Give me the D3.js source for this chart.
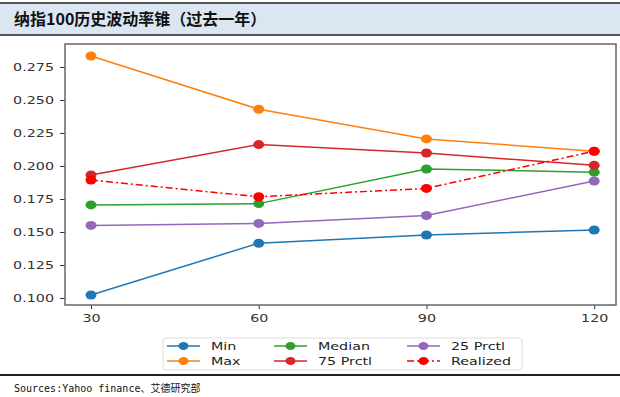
<!DOCTYPE html>
<html>
<head>
<meta charset="utf-8">
<script src="https://cdn.jsdelivr.net/npm/d3@7"></script>
<style>
  body { margin: 0; background: #fff; }
  svg { display: block; }
</style>
</head>
<body>
<div id="chart"></div>
<script>
// windows (days)
var windows = [30, 60, 90, 120];
var minVals = [0.1023, 0.1415, 0.1477, 0.1515];
var maxVals = [0.2833, 0.2430, 0.2205, 0.2112];
var medianVals = [0.1705, 0.1715, 0.1977, 0.1953];
var p25Vals = [0.1550, 0.1565, 0.1625, 0.1886];
var p75Vals = [0.1932, 0.2162, 0.2098, 0.2005];
var realizedVals = [0.1893, 0.1767, 0.1830, 0.2112];
var yTicks = [0.100, 0.125, 0.150, 0.175, 0.200, 0.225, 0.250, 0.275];

(function() {
  var W = 620, H = 397;
  var sx = 1.3; // source image is stretched horizontally
  var series = [
    {name: "Min", values: minVals, color: "#1f77b4", dash: null},
    {name: "Max", values: maxVals, color: "#ff7f0e", dash: null},
    {name: "Median", values: medianVals, color: "#2ca02c", dash: null},
    {name: "75 Prctl", values: p75Vals, color: "#d62728", dash: null},
    {name: "25 Prctl", values: p25Vals, color: "#9467bd", dash: null},
    {name: "Realized", values: realizedVals, color: "#ff0000", dash: "7,3,2,3"}
  ];

  var svg = d3.select("#chart").append("svg")
    .attr("width", W).attr("height", H);

  // header band
  svg.append("rect").attr("x", 0).attr("y", 3).attr("width", W).attr("height", 32)
    .attr("fill", "#dce6f2");
  svg.append("line").attr("x1", 0).attr("x2", W).attr("y1", 3).attr("y2", 3)
    .attr("stroke", "#222").attr("stroke-width", 1.5);
  svg.append("line").attr("x1", 0).attr("x2", W).attr("y1", 35).attr("y2", 35)
    .attr("stroke", "#222").attr("stroke-width", 1.5);
  svg.append("text").attr("x", 14).attr("y", 25)
    .attr("font-family", "Noto Sans CJK SC").attr("font-weight", "bold")
    .attr("font-size", "16px").attr("fill", "#111")
    .text("纳指100历史波动率锥（过去一年）");

  // plot area
  var pl = 65, pr = 616, pt = 44, pb = 305;
  var x = d3.scaleLinear().domain([25.35, 123.9]).range([pl, pr]);
  var y = d3.scaleLinear().domain([0.0947, 0.2924]).range([pb, pt]);

  var g = svg.append("g");

  var xAxis = g.append("g").attr("transform", "translate(0," + pb + ")")
    .call(d3.axisBottom(x).tickValues(windows).tickSize(4).tickPadding(5).tickFormat(d3.format("d")));
  var yAxis = g.append("g").attr("transform", "translate(" + pl + ",0)")
    .call(d3.axisLeft(y).tickValues(yTicks).tickSize(5).tickPadding(6).tickFormat(d3.format(".3f")));
  [xAxis, yAxis].forEach(function(a) {
    a.select(".domain").remove();
    a.selectAll("line").attr("stroke", "#333");
    a.selectAll("text").attr("font-family", "DejaVu Sans").attr("font-size", "11px").attr("fill", "#333");
  });
  xAxis.selectAll("text").attr("transform", "scale(" + sx + ",1)");
  yAxis.selectAll("text")
    .attr("x", -11 / sx)
    .attr("transform", "scale(" + sx + ",1)");

  g.append("rect").attr("x", pl).attr("y", pt)
    .attr("width", pr - pl).attr("height", pb - pt)
    .attr("fill", "none").attr("stroke", "#666").attr("stroke-width", 1.5);

  var line = d3.line()
    .x(function(d, i) { return x(windows[i]); })
    .y(function(d) { return y(d); });

  series.forEach(function(s) {
    g.append("path").attr("d", line(s.values))
      .attr("fill", "none").attr("stroke", s.color).attr("stroke-width", 1.5)
      .attr("stroke-dasharray", s.dash);
    g.selectAll(null).data(s.values).enter().append("ellipse")
      .attr("cx", function(d, i) { return x(windows[i]); })
      .attr("cy", function(d) { return y(d); })
      .attr("rx", 5.5).attr("ry", 4.5).attr("fill", s.color);
  });

  // legend (column order: Min, Max | Median, 75 | 25, Realized)
  var lg = svg.append("g");
  lg.append("rect").attr("x", 163).attr("y", 338).attr("width", 359).attr("height", 32)
    .attr("rx", 3).attr("fill", "#fff").attr("stroke", "#ddd");
  var colX = [167, 274, 407];
  var rowY = [346, 361];
  series.forEach(function(s, i) {
    var cx = colX[Math.floor(i / 2)], cy = rowY[i % 2];
    lg.append("line").attr("x1", cx).attr("x2", cx + 33).attr("y1", cy).attr("y2", cy)
      .attr("stroke", s.color).attr("stroke-width", 1.5).attr("stroke-dasharray", s.dash);
    lg.append("ellipse").attr("cx", cx + 16.5).attr("cy", cy).attr("rx", 5).attr("ry", 4)
      .attr("fill", s.color);
    lg.append("text")
      .attr("transform", "translate(" + (cx + 44) + "," + (cy + 4) + ") scale(" + sx + ",1)")
      .attr("font-family", "DejaVu Sans").attr("font-size", "11px").attr("fill", "#222")
      .text(s.name);
  });

  // footer
  svg.append("line").attr("x1", 0).attr("x2", W).attr("y1", 375).attr("y2", 375)
    .attr("stroke", "#222").attr("stroke-width", 2);
  svg.append("text").attr("x", 14).attr("y", 392)
    .attr("font-family", "DejaVu Sans Mono, Noto Sans CJK SC").attr("font-size", "10px").attr("fill", "#111")
    .text("Sources:Yahoo finance、艾德研究部");
})();
</script>
</body>
</html>
